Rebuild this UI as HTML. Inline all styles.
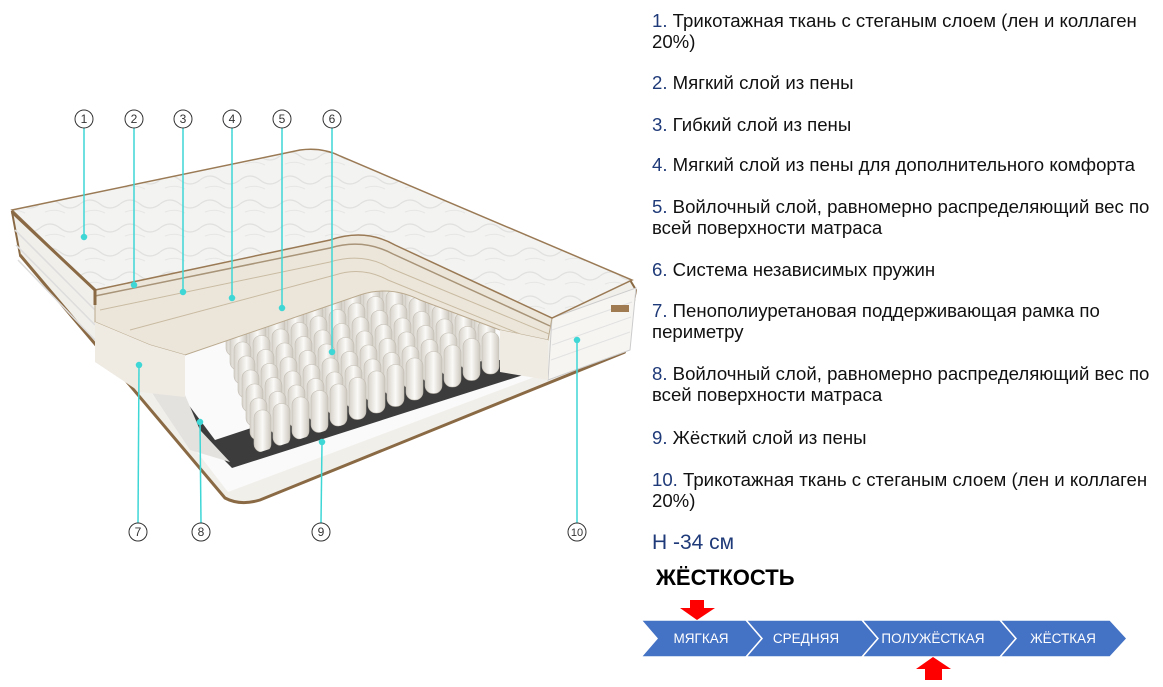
<!DOCTYPE html>
<html><head><meta charset="utf-8"><style>
body{margin:0;width:1163px;height:687px;background:#fff;overflow:hidden;position:relative;font-family:"Liberation Sans",sans-serif}
.t{position:absolute;left:652px;font-size:18.6px;line-height:21px;color:#111;width:510px}
.t b{font-weight:normal;color:#1f3a78}
</style></head><body>
<svg width="640" height="687" style="position:absolute;left:0;top:0">
<defs>
<linearGradient id="sp2" x1="0" x2="1"><stop offset="0" stop-color="#d6d2ca"/><stop offset=".5" stop-color="#fbfaf7"/><stop offset="1" stop-color="#cdc8bf"/></linearGradient>
<pattern id="q" width="40" height="24" patternUnits="userSpaceOnUse"><rect width="40" height="24" fill="#f3f3f2"/><path d="M0,12 Q10,4 20,12 T40,12" fill="none" stroke="#e0e0de" stroke-width="1.2"/><path d="M5,20 Q15,16 25,21" fill="none" stroke="#e6e6e4"/></pattern>
<g id="row"><rect x="0" y="0" width="17" height="42" rx="8"/><rect x="19" y="-6.5" width="17" height="42" rx="8"/><rect x="38" y="-13" width="17" height="42" rx="8"/><rect x="57" y="-19.5" width="17" height="42" rx="8"/><rect x="76" y="-26" width="17" height="42" rx="8"/><rect x="95" y="-32.5" width="17" height="42" rx="8"/><rect x="114" y="-39" width="17" height="42" rx="8"/><rect x="133" y="-45.5" width="17" height="42" rx="8"/><rect x="152" y="-52" width="17" height="42" rx="8"/><rect x="171" y="-58.5" width="17" height="42" rx="8"/><rect x="190" y="-65" width="17" height="42" rx="8"/><rect x="209" y="-71.5" width="17" height="42" rx="8"/><rect x="228" y="-78" width="17" height="42" rx="8"/></g>
<clipPath id="cp"><path d="M185,300 L395,250 L505,300 L505,372 L230,462 L185,400 Z"/></clipPath>
</defs>
<!-- outer body / side -->
<path d="M12,212 L20,255 L225,498 Q240,506 260,500 L625,352 L636,290 L630,280 Z" fill="#f1efea" stroke="#8a6a45" stroke-width="2"/>
<path d="M20,255 L225,498 Q240,506 260,500 L625,352" fill="none" stroke="#8a6a45" stroke-width="3"/>
<g stroke="#ddd" stroke-width="1.5"><line x1="15" y1="230" x2="95" y2="310"/><line x1="16" y1="245" x2="95" y2="325"/><line x1="18" y1="260" x2="95" y2="340"/></g>
<!-- right side -->
<path d="M552,318 L636,288 L630,350 L548,380 Z" fill="#f6f5f2" stroke="#ccc"/>
<g stroke="#e2e2e2"><line x1="552" y1="330" x2="632" y2="302"/><line x1="552" y1="345" x2="631" y2="317"/><line x1="551" y1="360" x2="630" y2="332"/></g>
<rect x="611" y="305" width="18" height="7" fill="#a07a50"/>
<!-- felt bottom -->
<path d="M95,320 L228,492 L548,372 L548,340 L500,330 L420,300 Q390,285 360,295 L185,355 Z" fill="#fafafa"/>
<!-- dark base -->
<path d="M165,400 L232,468 L545,368 L545,352 L500,360 L470,362 Q445,362 420,372 L215,440 L185,400 Z" fill="#3c3c3c"/>
<path d="M150,390 L185,395 L200,430 L230,462 L190,450 Z" fill="#e4e2de"/>
<!-- springs -->
<g fill="url(#sp2)" stroke="#c2bcb2" stroke-width=".6" clip-path="url(#cp)">
<use href="#row" x="222" y="300"/><use href="#row" x="226" y="314"/><use href="#row" x="230" y="328"/><use href="#row" x="234" y="342"/><use href="#row" x="238" y="356"/><use href="#row" x="242" y="370"/><use href="#row" x="246" y="384"/><use href="#row" x="250" y="398"/><use href="#row" x="254" y="410"/>
</g>
<!-- layered cutout band -->
<path d="M95,290 L330,240 Q365,228 395,245 L552,318 L548,340 L500,330 L420,300 Q390,285 360,295 L185,355 L150,345 L95,322 Z" fill="#ece6da" stroke="#b9a98e"/>
<path d="M95,296 L330,248 Q363,238 393,254 L550,326" fill="none" stroke="#a89478" stroke-width="1.5"/>
<path d="M100,310 L330,262 Q363,252 390,268 L549,334" fill="none" stroke="#c9bba2"/>
<path d="M130,330 L335,275 Q362,266 388,280 L520,334" fill="none" stroke="#c9bba2"/>
<!-- side blocks -->
<path d="M95,305 L95,362 L140,392 L185,397 L185,355 L150,345 L95,322 Z" fill="#efebe3"/>
<path d="M500,330 L548,340 L548,380 L500,372 Z" fill="#efebe3"/>
<!-- top quilted surface -->
<path d="M12,210 L300,150 Q322,147 340,156 L632,280 L552,318 L395,245 Q365,228 330,240 L95,290 Z" fill="url(#q)" stroke="#9a7a55" stroke-width="1.5"/>
<path d="M12,212 L95,290 L95,305" stroke="#8a6a45" stroke-width="3" fill="none"/>
<!-- leaders -->
<g stroke="#3fd6d6" stroke-width="1.5" fill="#3fd6d6">
<line x1="84" y1="128" x2="84" y2="237"/><circle cx="84" cy="237" r="2.5"/>
<line x1="134" y1="128" x2="134" y2="285"/><circle cx="134" cy="285" r="2.5"/>
<line x1="183" y1="128" x2="183" y2="292"/><circle cx="183" cy="292" r="2.5"/>
<line x1="232" y1="128" x2="232" y2="298"/><circle cx="232" cy="298" r="2.5"/>
<line x1="282" y1="128" x2="282" y2="308"/><circle cx="282" cy="308" r="2.5"/>
<line x1="332" y1="128" x2="332" y2="352"/><circle cx="332" cy="352" r="2.5"/>
<line x1="138" y1="523" x2="139" y2="365"/><circle cx="139" cy="365" r="2.5"/>
<line x1="201" y1="523" x2="200" y2="422"/><circle cx="200" cy="422" r="2.5"/>
<line x1="321" y1="523" x2="322" y2="442"/><circle cx="322" cy="442" r="2.5"/>
<line x1="577" y1="523" x2="577" y2="340"/><circle cx="577" cy="340" r="2.5"/>
</g>
<g fill="#fff" stroke="#333" stroke-width="1">
<circle cx="84" cy="119" r="9"/><circle cx="134" cy="119" r="9"/><circle cx="183" cy="119" r="9"/><circle cx="232" cy="119" r="9"/><circle cx="282" cy="119" r="9"/><circle cx="332" cy="119" r="9"/>
<circle cx="138" cy="532" r="9"/><circle cx="201" cy="532" r="9"/><circle cx="321" cy="532" r="9"/><circle cx="577" cy="532" r="9"/>
</g>
<g fill="#333" font-size="12" font-family="Liberation Sans" text-anchor="middle">
<text x="84" y="123">1</text><text x="134" y="123">2</text><text x="183" y="123">3</text><text x="232" y="123">4</text><text x="282" y="123">5</text><text x="332" y="123">6</text>
<text x="138" y="536">7</text><text x="201" y="536">8</text><text x="321" y="536">9</text><text x="577" y="536" font-size="11">10</text>
</g>
</svg>
<div class="t" style="top:10px"><b>1.</b> Трикотажная ткань с стеганым слоем (лен и коллаген 20%)</div>
<div class="t" style="top:72px"><b>2.</b> Мягкий слой из пены</div>
<div class="t" style="top:114px"><b>3.</b> Гибкий слой из пены</div>
<div class="t" style="top:154px"><b>4.</b> Мягкий слой из пены для дополнительного комфорта</div>
<div class="t" style="top:196px"><b>5.</b> Войлочный слой, равномерно распределяющий вес по всей поверхности матраса</div>
<div class="t" style="top:259px"><b>6.</b> Система независимых пружин</div>
<div class="t" style="top:300px"><b>7.</b> Пенополиуретановая поддерживающая рамка по периметру</div>
<div class="t" style="top:363px"><b>8.</b> Войлочный слой, равномерно распределяющий вес по всей поверхности матраса</div>
<div class="t" style="top:427px"><b>9.</b> Жёсткий слой из пены</div>
<div class="t" style="top:469px"><b>10.</b> Трикотажная ткань с стеганым слоем (лен и коллаген 20%)</div>
<div style="position:absolute;left:652px;top:531px;font-size:21px;color:#1f3a78">H -34 см</div>
<div style="position:absolute;left:656px;top:565px;font-size:22px;font-weight:bold;color:#000">ЖЁСТКОСТЬ</div>
<svg width="1163" height="687" style="position:absolute;left:0;top:0">
<g fill="#4472c4" stroke="#fff" stroke-width="1.5">
<polygon points="641,620 746,620 762,638.5 746,657 641,657 657,638.5"/>
<polygon points="746,620 862,620 878,638.5 862,657 746,657 762,638.5"/>
<polygon points="862,620 1000,620 1016,638.5 1000,657 862,657 878,638.5"/>
<polygon points="1000,620 1110,620 1127,638.5 1110,657 1000,657 1016,638.5"/>
</g>
<g fill="#fff" font-size="13.5" font-family="Liberation Sans" text-anchor="middle">
<text x="701" y="643">МЯГКАЯ</text><text x="806" y="643">СРЕДНЯЯ</text><text x="933" y="643">ПОЛУЖЁСТКАЯ</text><text x="1063" y="643">ЖЁСТКАЯ</text>
</g>
<polygon points="690,600 704,600 704,608 715,608 697,620 680,608 690,608" fill="#f00"/>
<polygon points="933,657 951,669 942,669 942,680 925,680 925,669 916,669" fill="#f00"/>
</svg>
</body></html>
